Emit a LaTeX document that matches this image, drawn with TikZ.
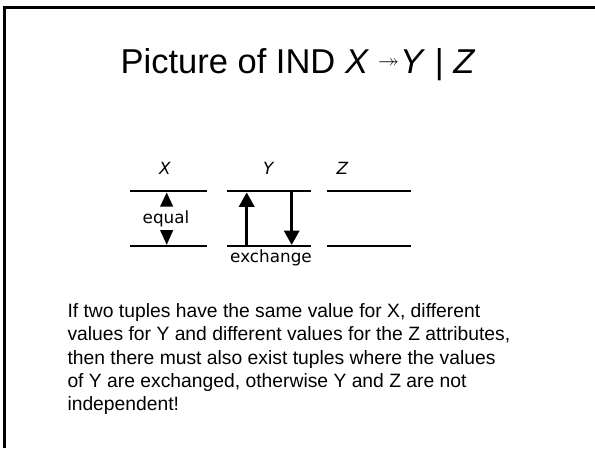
\documentclass[tikz,border=0pt]{standalone}
\usepackage{amssymb}
\usepackage{fontspec}
\setmainfont{Liberation Sans}
\newfontfamily\verd{DejaVu Sans}
\usetikzlibrary{arrows.meta}
\begin{document}
\begin{tikzpicture}[x=1pt,y=-1pt,
  body/.style={anchor=base west,inner sep=0pt,font=\fontsize{19.3}{23}\selectfont},
  lbl/.style={anchor=base,inner sep=0pt,font=\verd\fontsize{16.8}{20}\selectfont},
  attr/.style={anchor=base,inner sep=0pt,font=\verd\itshape\fontsize{16.8}{20}\selectfont},
  rule/.style={line width=2pt},
  xarrow/.style={line width=3.3pt,-{Triangle[length=14.5pt,width=15pt]}},
  tri/.style={fill=black}]
\fill[white] (0,0) rectangle (595,448);
\useasboundingbox (0,0) rectangle (595,448);
% frame
\coordinate (fbl) at (4.2,448);
\coordinate (ftl) at (4.2,7.5);
\coordinate (ftr) at (595,7.5);
\draw[line width=3pt] (fbl) -- (ftl) -- (ftr);
% title
\node[anchor=base west,inner sep=0pt,font=\fontsize{34.5}{40}\selectfont] (title) at (120.5,73.3)
  {Picture of IND \textit{X}\hspace{9pt}\raisebox{6pt}{\fontsize{21}{21}\selectfont$\twoheadrightarrow$}\hspace{1pt}\textit{Y} | \textit{Z}};
% attribute labels
\node[attr] (lx) at (165,174) {X};
\node[attr] (ly) at (268.3,174) {Y};
\node[attr] (lz) at (342.3,174) {Z};
% rules
\coordinate (xa) at (130,191.3); \coordinate (xb) at (207,191.3);
\coordinate (xc) at (130,246);   \coordinate (xd) at (207,246);
\coordinate (ya) at (226.7,191.3); \coordinate (yb) at (311,191.3);
\coordinate (yc) at (226.7,246);   \coordinate (yd) at (311,246);
\coordinate (za) at (326.7,191.3); \coordinate (zb) at (411,191.3);
\coordinate (zc) at (326.7,246);   \coordinate (zd) at (411,246);
\draw[rule] (xa) -- (xb); \draw[rule] (xc) -- (xd);
\draw[rule] (ya) -- (yb); \draw[rule] (yc) -- (yd);
\draw[rule] (za) -- (zb); \draw[rule] (zc) -- (zd);
% equal
\node[lbl] (eq) at (166,223) {equal};
\fill[tri] (160,206.7) -- (166.7,192.5) -- (173.3,206.7) -- cycle;
\fill[tri] (160,230) -- (166.7,244.8) -- (173.3,230) -- cycle;
% exchange
\coordinate (u0) at (246.7,246);
\coordinate (u1) at (246.7,192.3);
\coordinate (d0) at (291.7,191.3);
\coordinate (d1) at (291.7,245);
\draw[xarrow] (u0) -- (u1);
\draw[xarrow] (d0) -- (d1);
\node[lbl] (ex) at (271,262) {exchange};
% body text
\node[body] (t1) at (67.3,317.7) {If two tuples have the same value for X, different};
\node[body] (t2) at (67.3,340.9) {values for Y and different values for the Z attributes,};
\node[body] (t3) at (67.3,364.1) {then there must also exist tuples where the values};
\node[body] (t4) at (67.3,387.3) {of Y are exchanged, otherwise Y and Z are not};
\node[body] (t5) at (67.3,410.5) {independent!};
\end{tikzpicture}
\end{document}
